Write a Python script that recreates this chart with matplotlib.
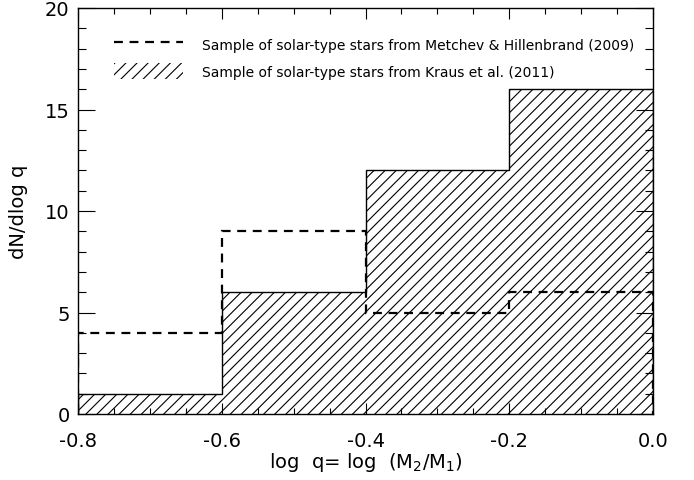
import matplotlib.pyplot as plt
import numpy as np
from matplotlib.patches import Patch
from matplotlib.lines import Line2D
from matplotlib.ticker import MultipleLocator

plt.rcParams['hatch.linewidth'] = 0.8

# bin edges in log q and the two histograms
edges = [-0.8, -0.6, -0.4, -0.2, 0.0]
kraus = [1, 6, 12, 16]
metchev = [4, 9, 5, 6]

lab_metchev = 'Sample of solar-type stars from Metchev & Hillenbrand (2009)'
lab_kraus = 'Sample of solar-type stars from Kraus et al. (2011)'

fig = plt.figure(figsize=(6.94, 4.81), dpi=100)
ax = fig.add_axes([78 / 694, 1 - 415 / 481, (653 - 78) / 694, (415 - 9) / 481])

# hatched histogram (Kraus)
ax.stairs(kraus, edges, fill=True, facecolor='white', edgecolor='black',
          hatch='///', linewidth=0)
ax.stairs(kraus, edges, baseline=0, color='black', linewidth=1.0)
# dashed histogram (Metchev)
ax.stairs(metchev, edges, baseline=0, color='black', linewidth=1.6,
          linestyle=(0, (4, 3)))

ax.set_xlim(-0.8, 0.0)
ax.set_ylim(0, 20)
ax.xaxis.set_major_locator(MultipleLocator(0.2))
ax.xaxis.set_minor_locator(MultipleLocator(0.05))
ax.yaxis.set_major_locator(MultipleLocator(5))
ax.yaxis.set_minor_locator(MultipleLocator(1))
ax.xaxis.set_major_formatter(plt.FuncFormatter(lambda v, p: '%.1f' % v if abs(v) > 1e-9 else '0.0'))
ax.tick_params(which='both', direction='in', top=True, right=True, width=0.8, labelsize=14)
ax.tick_params(axis='x', which='major', length=8, pad=12)
ax.tick_params(axis='x', which='minor', length=4)
ax.tick_params(axis='y', which='major', length=12, pad=6)
ax.tick_params(axis='y', which='minor', length=6)
for s in ax.spines.values():
    s.set_linewidth(1.0)

ax.set_xlabel(r'log  q= log  (M$_2$/M$_1$)', fontsize=14, labelpad=0)
ax.set_ylabel('dN/dlog q', fontsize=14, labelpad=12)

handles = [Line2D([0], [0], color='black', linestyle=(0, (4, 3)), linewidth=1.6),
           Patch(facecolor='white', edgecolor='black', hatch='///', linewidth=0)]
ax.legend(handles, [lab_metchev, lab_kraus], loc='upper left',
          bbox_to_anchor=(0.04, 0.962), frameon=False, fontsize=10,
          handlelength=5.0, handleheight=1.4, labelspacing=0.8, handletextpad=1.4)

fig.savefig('out.png', dpi=100)
